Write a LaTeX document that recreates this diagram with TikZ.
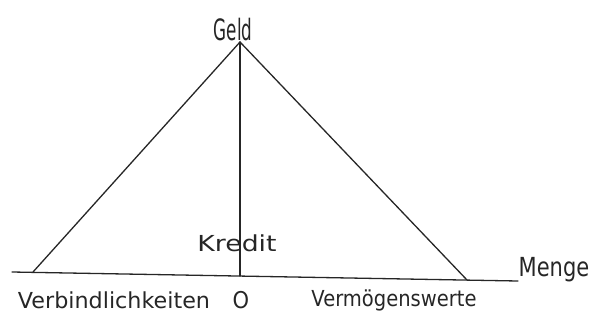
\documentclass[tikz,border=0pt]{standalone}
\usepackage{graphicx}
\usepackage{fontspec}
\setmainfont{DejaVu Sans}
\begin{document}
\begin{tikzpicture}[x=1pt,y=-1pt,
  hand/.style={line width=1.3pt,draw=black!85,line cap=round},
  lbl/.style={font=\fontsize{21}{24}\selectfont,text=black!85,inner sep=0pt}]
\useasboundingbox (0,0) rectangle (591,327);
\coordinate (axL) at (12,272);
\coordinate (axR) at (518,281);
\coordinate (apex) at (240,42);
\coordinate (footL) at (33,272);
\coordinate (footR) at (467,280);
\coordinate (zero) at (240,276);
\draw[hand] (axL) -- (axR);
\draw[hand] (footL) -- (apex) -- (footR);
\draw[hand] (apex) -- (zero);
\node[lbl] (geld) at (233,30) {\scalebox{0.8}[1.4]{Geld}};
\node[lbl] (kredit) at (237,243) {\scalebox{1.27}[1.05]{Kredit}};
\node[lbl] (menge) at (554,270) {\scalebox{1}[1.25]{Menge}};
\node[lbl] (verb) at (114,300) {\scalebox{1.06}[1.05]{Verbindlichkeiten}};
\node[lbl] (null) at (241,300) {\scalebox{1}[1.1]{O}};
\node[lbl] (verm) at (394,300) {\scalebox{0.93}[1.05]{Vermögenswerte}};
\end{tikzpicture}
\end{document}
